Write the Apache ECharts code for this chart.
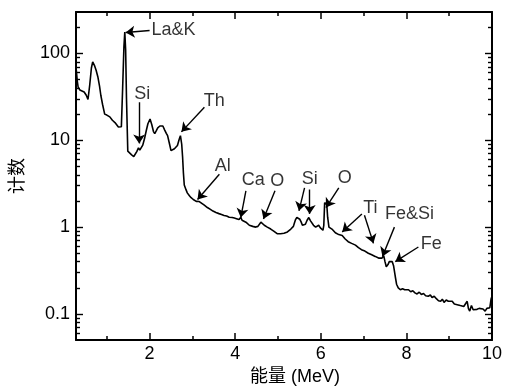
<!DOCTYPE html>
<html>
<head>
<meta charset="utf-8">
<script src="https://cdn.jsdelivr.net/npm/echarts@6/dist/echarts.min.js"></script>
<style>
  html, body { margin: 0; padding: 0; background: #fff; }
  #chart { width: 505px; height: 391px; }
</style>
</head>
<body>
<div id="chart"></div>
<script>
// spectrum
const energy = [
  0.28, 0.31, 0.33, 0.37, 0.42, 0.47, 0.52, 0.56, 0.60, 0.64, 0.67, 0.71, 0.75, 0.79, 0.83, 0.86, 0.90, 0.95,
  1.00, 1.07, 1.13, 1.19, 1.23, 1.27, 1.30, 1.34, 1.37, 1.40, 1.42, 1.44, 1.46, 1.49, 1.53, 1.58, 1.63, 1.67,
  1.70, 1.74, 1.77, 1.80, 1.84, 1.88, 1.92, 1.96, 2.01, 2.05, 2.09, 2.12, 2.16, 2.19, 2.24, 2.28, 2.31, 2.35,
  2.39, 2.42, 2.46, 2.50, 2.54, 2.58, 2.62, 2.65, 2.69, 2.72, 2.75, 2.77, 2.79, 2.81, 2.85, 2.88, 2.93, 2.97,
  3.02, 3.05, 3.09, 3.12, 3.16, 3.20, 3.27, 3.35, 3.42, 3.48, 3.55, 3.62, 3.68, 3.74, 3.80, 3.86, 3.90, 3.93,
  3.98, 4.03, 4.09, 4.13, 4.16, 4.20, 4.25, 4.29, 4.33, 4.37, 4.41, 4.45, 4.48, 4.53, 4.57, 4.60, 4.64, 4.68,
  4.71, 4.75, 4.79, 4.83, 4.86, 4.90, 4.94, 4.98, 5.02, 5.06, 5.10, 5.14, 5.18, 5.22, 5.26, 5.30, 5.33, 5.36,
  5.38, 5.41, 5.44, 5.47, 5.51, 5.54, 5.57, 5.60, 5.64, 5.68, 5.72, 5.76, 5.79, 5.83, 5.88, 5.91, 5.95, 5.99,
  6.02, 6.05, 6.07, 6.09, 6.12, 6.14, 6.16, 6.19, 6.22, 6.26, 6.30, 6.34, 6.38, 6.42, 6.46, 6.50, 6.53, 6.57,
  6.61, 6.64, 6.68, 6.72, 6.76, 6.81, 6.85, 6.88, 6.92, 6.95, 6.99, 7.03, 7.07, 7.11, 7.15, 7.19, 7.23, 7.27,
  7.31, 7.35, 7.39, 7.43, 7.47, 7.50, 7.53, 7.57, 7.60, 7.64, 7.67, 7.70, 7.74, 7.77, 7.81, 7.86, 7.91, 7.96,
  8.00, 8.05, 8.10, 8.15, 8.20, 8.25, 8.30, 8.35, 8.40, 8.45, 8.51, 8.56, 8.60, 8.65, 8.70, 8.75, 8.80, 8.84,
  8.88, 8.93, 8.98, 9.02, 9.07, 9.12, 9.16, 9.21, 9.26, 9.30, 9.34, 9.38, 9.42, 9.45, 9.48, 9.52, 9.56, 9.60,
  9.65, 9.70, 9.74, 9.79, 9.84, 9.88, 9.92, 9.95, 9.98, 10.0
]
const counts = [
  70, 48, 41, 38, 37, 36, 33, 29.5, 43, 68, 80, 73, 64, 54, 42, 33, 26, 20,
  19.5, 18.6, 17, 16, 15.4, 14.2, 13.7, 14.3, 40, 120, 176, 110, 30, 7.5, 7.2, 6.8, 6.5, 6.6,
  7.4, 8.2, 7.7, 7.4, 8.8, 10.4, 12.8, 15.5, 17.6, 15.2, 12.6, 11.9, 13.0, 13.9, 14.6, 15.0, 14.6, 13.2,
  12.0, 11.3, 9.3, 7.6, 7.8, 8.0, 8.2, 8.7, 10.2, 11.3, 9.0, 6.5, 4.2, 3.06, 2.7, 2.48, 2.3, 2.18,
  2.08, 2.02, 1.98, 2.07, 1.97, 1.91, 1.80, 1.68, 1.60, 1.53, 1.47, 1.43, 1.40, 1.36, 1.34, 1.30, 1.32, 1.29,
  1.27, 1.25, 1.22, 1.30, 1.20, 1.17, 1.14, 1.10, 1.05, 1.07, 1.02, 1.04, 1.00, 1.02, 1.05, 1.14, 1.10, 1.05,
  1.05, 1.00, 0.97, 0.95, 0.92, 0.90, 0.87, 0.84, 0.81, 0.84, 0.82, 0.85, 0.83, 0.88, 0.90, 0.95, 1.00, 1.02,
  1.10, 1.22, 1.29, 1.24, 1.23, 1.15, 1.05, 1.00, 1.08, 1.20, 1.29, 1.18, 1.14, 1.05, 1.00, 1.03, 1.05, 0.98,
  0.95, 0.92, 1.05, 1.91, 1.85, 1.82, 1.30, 1.00, 1.02, 0.95, 0.92, 0.86, 0.84, 0.82, 0.84, 0.80, 0.76, 0.73,
  0.71, 0.68, 0.69, 0.65, 0.66, 0.62, 0.61, 0.58, 0.59, 0.55, 0.56, 0.53, 0.54, 0.50, 0.51, 0.48, 0.49, 0.46,
  0.47, 0.44, 0.45, 0.44, 0.47, 0.40, 0.35, 0.37, 0.40, 0.41, 0.40, 0.36, 0.27, 0.22, 0.20, 0.19, 0.195, 0.19,
  0.185, 0.19, 0.18, 0.185, 0.175, 0.17, 0.178, 0.168, 0.172, 0.162, 0.16, 0.165, 0.155, 0.16, 0.15, 0.142, 0.14, 0.148,
  0.136, 0.145, 0.14, 0.135, 0.14, 0.13, 0.134, 0.127, 0.125, 0.128, 0.122, 0.126, 0.14, 0.115, 0.108, 0.125, 0.112, 0.118,
  0.113, 0.116, 0.112, 0.114, 0.108, 0.116, 0.112, 0.118, 0.15, 0.16
]

// peak labels (centre of text, data coords)
const labelNames = ['La&K', 'Si', 'Th', 'Al', 'Ca', 'O', 'Si', 'O', 'Ti', 'Fe&Si', 'Fe']
const labelE = [2.56, 1.83, 3.51, 3.71, 4.42, 4.98, 5.74, 6.56, 7.16, 8.07, 8.58]
const labelC = [184, 33.7, 28.3, 5.02, 3.49, 3.40, 3.58, 3.67, 1.68, 1.40, 0.645]

// arrows: tail energy, tail count -> head energy, head count
const arrowFrom = [[2.0, 184], [1.756, 27.4], [3.28, 24], [3.63, 4.07], [4.25, 2.62], [4.93, 2.62],
  [5.62, 2.83], [5.74, 2.71], [6.42, 2.83], [6.96, 1.42], [7.02, 1.37], [7.72, 1.0], [8.28, 0.59]]
const arrowTo = [[1.44, 174], [1.756, 9.2], [2.744, 12.5], [3.12, 2.08], [4.13, 1.29], [4.66, 1.24],
  [5.49, 1.54], [5.74, 1.42], [6.12, 1.68], [6.50, 0.88], [7.23, 0.65], [7.44, 0.46], [7.74, 0.40]]

// ticks
const xMajor = [2, 4, 6, 8, 10]
const xMinor = [1, 3, 5, 7, 9]
const yMajor = [0.1, 1, 10, 100]
const yMinor = [0.06, 0.07, 0.08, 0.09, 0.2, 0.3, 0.4, 0.5, 0.6, 0.7, 0.8, 0.9,
  2, 3, 4, 5, 6, 7, 8, 9, 20, 30, 40, 50, 60, 70, 80, 90, 200]
const xMin = 0.28
const xMax = 10
const yMin = 0.05
const yMax = 300

const font = "'Liberation Sans', 'Noto Sans CJK SC', sans-serif"

const chart = echarts.init(document.getElementById('chart'))

function xAxisOf(position, values, len, withLine) {
  return {
    type: 'value',
    position: position,
    min: xMin,
    max: xMax,
    axisLine: { show: withLine, lineStyle: { color: '#000', width: 2 } },
    axisTick: { show: true, inside: true, length: len, customValues: values, lineStyle: { color: '#000', width: 1.5 } },
    axisLabel: { show: false },
    splitLine: { show: false }
  }
}
function yAxisOf(position, values, len, withLine) {
  return {
    type: 'log',
    logBase: 10,
    position: position,
    min: yMin,
    max: yMax,
    axisLine: { show: withLine, lineStyle: { color: '#000', width: 2 } },
    axisTick: { show: true, inside: true, length: len, customValues: values, lineStyle: { color: '#000', width: 1.4 } },
    axisLabel: { show: false },
    splitLine: { show: false }
  }
}

const xBottom = xAxisOf('bottom', xMajor, 7, true)
xBottom.name = '能量 (MeV)'
xBottom.nameLocation = 'middle'
xBottom.nameGap = 23
xBottom.nameTextStyle = { fontSize: 18, color: '#000', fontFamily: font, padding: [0, 0, 0, 22] }
xBottom.axisLabel = { show: true, customValues: xMajor, fontSize: 18, color: '#000', fontFamily: font, margin: 5 }

const yLeft = yAxisOf('left', yMajor, 7, true)
yLeft.name = '计数'
yLeft.nameLocation = 'middle'
yLeft.nameGap = 49
yLeft.nameRotate = 90
yLeft.nameTextStyle = { fontSize: 18, color: '#000', fontFamily: font }
yLeft.axisLabel = {
  show: true, customValues: yMajor, fontSize: 18, color: '#000', fontFamily: font, margin: 6,
  formatter: v => String(+v.toPrecision(3))
}

const option = {
  animation: false,
  grid: { left: 76, right: 12, top: 12, bottom: 46, containLabel: false },
  xAxis: [
    xBottom,
    xAxisOf('bottom', xMinor, 4, false),
    xAxisOf('top', xMajor, 7, true),
    xAxisOf('top', xMinor, 4, false)
  ],
  yAxis: [
    yLeft,
    yAxisOf('left', yMinor, 4, false),
    yAxisOf('right', yMajor, 7, true),
    yAxisOf('right', yMinor, 4, false)
  ],
  series: [
    {
      type: 'line',
      data: energy.map((e, i) => [e, counts[i]]),
      showSymbol: false,
      symbol: 'none',
      lineStyle: { color: '#000', width: 1.6 },
      silent: true
    },
    {
      type: 'scatter',
      data: labelNames.map((n, i) => ({ name: n, value: [labelE[i], labelC[i]] })),
      symbolSize: 0,
      silent: true,
      label: {
        show: true,
        position: 'inside',
        formatter: p => p.name,
        fontSize: 18,
        color: '#000',
        fontFamily: font
      },
      markLine: {
        silent: true,
        symbol: ['none', 'arrow'],
        symbolSize: 9,
        label: { show: false },
        lineStyle: { color: '#000', width: 1.4, type: 'solid' },
        emphasis: { disabled: true },
        data: arrowFrom.map((f, i) => [{ coord: f }, { coord: arrowTo[i] }])
      }
    }
  ]
}

chart.setOption(option)
</script>
</body>
</html>
